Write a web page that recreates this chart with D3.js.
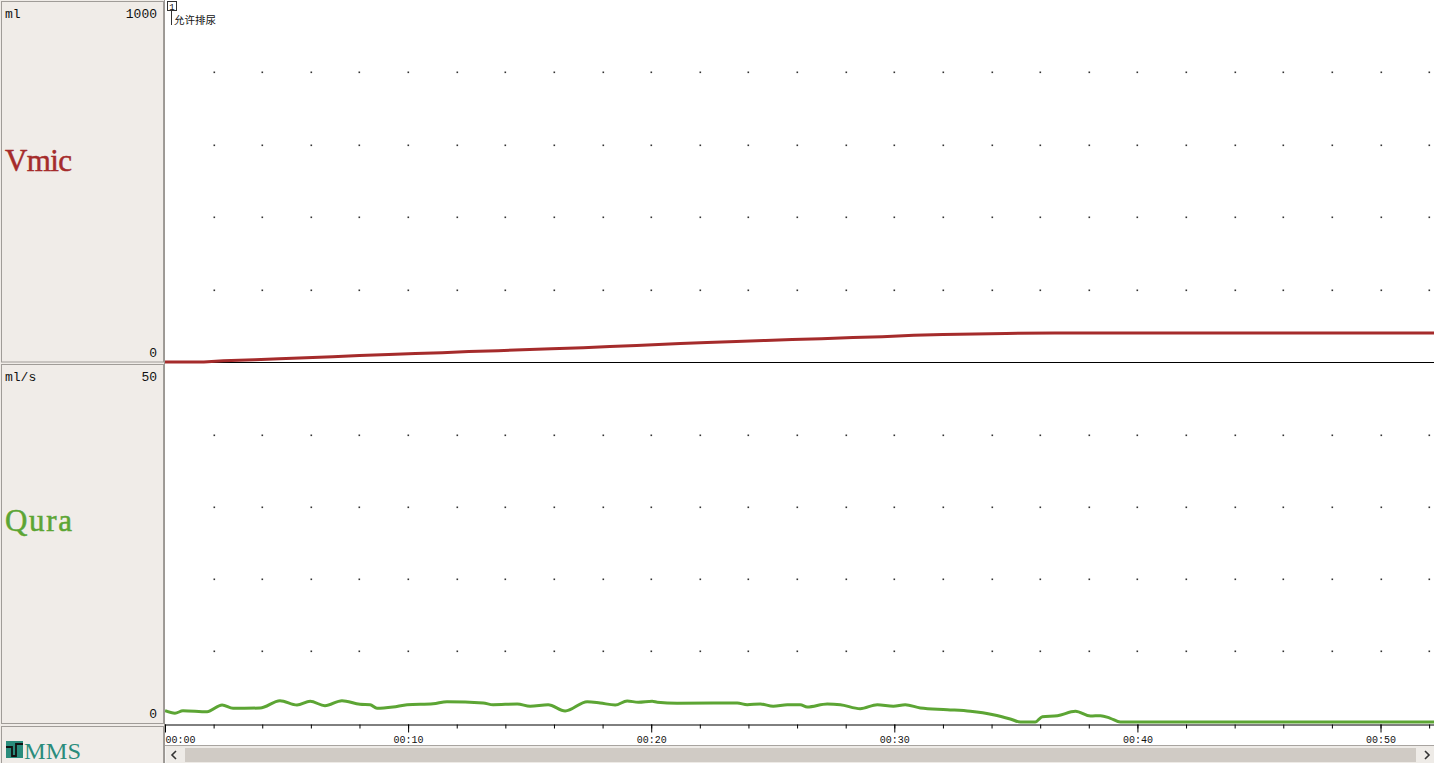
<!DOCTYPE html>
<html>
<head>
<meta charset="utf-8">
<script src="https://cdn.jsdelivr.net/npm/d3@7/dist/d3.min.js"></script>
<style>
html,body{margin:0;padding:0;background:#fff;overflow:hidden;}
svg{display:block;}
</style>
</head>
<body>
<svg id="chart" width="1434" height="763"></svg>
<script>
// ---- data ----
const vmicTime   = [0, 1.6, 2.4, 3.7, 4.7, 5.8, 6.9, 8.0, 9.2, 10.3, 11.4, 12.5, 13.7, 14.7, 15.9, 17.2, 18.3, 19.4, 20.3, 21.2, 22.3, 23.5, 24.7, 25.8, 27.0, 28.3, 29.5, 30.8, 32.0, 34.6, 36.6, 52.2];
const vmicValues = [0, 0, 3.6, 6.3, 9.1, 11.9, 14.6, 18.2, 21, 23.7, 25.7, 29.3, 31.2, 34, 36.7, 39.5, 43, 45.8, 48.6, 51.3, 54.1, 56.9, 59.6, 62, 64.4, 68, 70, 73.6, 76.3, 79, 80.1, 80.1];

const quraTime   = [0, 0.41, 0.74, 1.73, 2.35, 2.80, 3.91, 4.73, 5.43, 5.97, 6.58, 7.28, 8.02, 8.44, 8.72, 9.38, 9.96, 11.03, 11.60, 13.09, 13.50, 14.49, 15.02, 15.76, 16.46, 17.37, 17.90, 18.52, 19.01, 19.47, 20.04, 20.25, 21.07, 23.54, 23.95, 24.49, 25.02, 25.60, 26.13, 26.42, 27.24, 27.78, 28.60, 29.30, 29.96, 30.45, 31.07, 32.18, 33.13, 34.07, 34.77, 35.19, 35.80, 36.09, 36.71, 37.45, 38.07, 38.48, 38.89, 39.30, 52.2];
const quraValues = [1.57, 1.21, 1.57, 1.43, 2.36, 1.90, 1.94, 2.96, 2.36, 2.88, 2.26, 2.96, 2.46, 2.40, 1.90, 2.08, 2.40, 2.54, 2.82, 2.64, 2.40, 2.50, 2.18, 2.40, 1.53, 2.82, 2.64, 2.36, 2.92, 2.74, 2.88, 2.74, 2.60, 2.64, 2.40, 2.50, 2.18, 2.40, 2.40, 2.08, 2.50, 2.40, 1.85, 2.40, 2.18, 2.40, 1.94, 1.71, 1.49, 1.01, 0.42, 0, 0, 0.74, 0.88, 1.49, 0.83, 0.88, 0.51, 0, 0];

const channels = [
  {name: "Vmic", unit: "ml",   max: 1000, color: "#a52b2b"},
  {name: "Qura", unit: "ml/s", max: 50,   color: "#5ca534"}
];
const xTickValues = d3.range(0, 53, 2);
const xMajorTicks = [0, 10, 20, 30, 40, 50];
const eventLabels = [{time: 0.15, num: "1", text: "允许排尿"}];

// ---- layout ----
const W = 1434, H = 763;
const plotL = 165, plotR = 1434;
const svg = d3.select("#chart");

const x = d3.scaleLinear().domain([0, 52.2]).range([plotL, plotR]);
const yTop = d3.scaleLinear().domain([0, channels[0].max]).range([362, 0]);
const yBot = d3.scaleLinear().domain([0, channels[1].max]).range([723, 363]);

// left panel background
svg.append("rect").attr("x",0).attr("y",0).attr("width",plotL).attr("height",H).attr("fill","#f0ece8");
const boxes = [[1.5,1.5,162,360.5],[1.5,364.5,162,359],[1.5,726.5,162,38]];
boxes.forEach(b=>{
  svg.append("rect").attr("x",b[0]).attr("y",b[1]).attr("width",b[2]).attr("height",b[3])
    .attr("fill","#f0ece8").attr("stroke","#a09c98").attr("stroke-width",1);
});
svg.append("line").attr("x1",164.5).attr("x2",164.5).attr("y1",0).attr("y2",H).attr("stroke","#9c9894").attr("stroke-width",1);

// plot background
svg.append("rect").attr("x",plotL+0.5).attr("y",0).attr("width",plotR-plotL).attr("height",746).attr("fill","#fff");

const mono = "'Liberation Mono','DejaVu Sans Mono',monospace";
const serif = "'Liberation Serif','DejaVu Serif',serif";
function panelText(txt, xx, yy, anchor, size, color){
  return svg.append("text").attr("x",xx).attr("y",yy).attr("text-anchor",anchor)
    .attr("font-family",mono).attr("font-size",size).attr("fill",color).text(txt);
}
panelText(channels[0].unit, 5, 18, "start", 13, "#111");
panelText(String(channels[0].max), 157, 18, "end", 13, "#111");
panelText("0", 157, 357, "end", 13, "#111");
panelText(channels[1].unit, 5, 381, "start", 13, "#111");
panelText(String(channels[1].max), 157, 381, "end", 13, "#111");
panelText("0", 157, 718, "end", 13, "#111");

function bigLabel(txt, yy, color){
  svg.append("text").attr("x",5).attr("y",yy).attr("font-family",serif)
    .attr("font-size",31).attr("fill",color).attr("stroke",color).attr("stroke-width",0.5)
    .attr("textLength",67).attr("lengthAdjust","spacing").text(txt);
}
bigLabel(channels[0].name, 171, channels[0].color);
bigLabel(channels[1].name, 531, channels[1].color);

// MMS logo
const logo = svg.append("g");
logo.append("rect").attr("x",6).attr("y",741).attr("width",17).attr("height",17).attr("fill","#2a8c7c");
logo.append("path").attr("d","M6,747 L12,747 L12,756 L16,756 L16,744 L23,744").attr("fill","none").attr("stroke","#111").attr("stroke-width",1.8);
logo.append("text").attr("x",24).attr("y",759).attr("font-family",serif)
  .attr("font-size",24).attr("fill","#2a8c7c").attr("textLength",57).attr("lengthAdjust","spacingAndGlyphs").text("MMS");

// grid dots
const dotG = svg.append("g");
const topVals = [200,400,600,800];
const botVals = [10,20,30,40];
xTickValues.filter(t=>t>0).forEach(t=>{
  topVals.forEach(v=>dotG.append("rect").attr("x",Math.round(x(t))-0.5).attr("y",Math.round(yTop(v))-0.5).attr("width",1.6).attr("height",1.6).attr("fill","#333"));
  botVals.forEach(v=>dotG.append("rect").attr("x",Math.round(x(t))-0.5).attr("y",Math.round(yBot(v))-0.5).attr("width",1.6).attr("height",1.6).attr("fill","#333"));
});

// separator line
svg.append("line").attr("x1",plotL).attr("x2",plotR).attr("y1",362.5).attr("y2",362.5).attr("stroke","#000").attr("stroke-width",1);

// clip
svg.append("clipPath").attr("id","clipTop").append("rect").attr("x",plotL).attr("y",0).attr("width",plotR-plotL).attr("height",364);
svg.append("clipPath").attr("id","clipBot").append("rect").attr("x",plotL).attr("y",363).attr("width",plotR-plotL).attr("height",362);

// lines
const vmicData = vmicTime.map((t,i)=>({t, v: vmicValues[i]}));
const quraData = quraTime.map((t,i)=>({t, v: quraValues[i]}));
svg.append("path").datum(vmicData).attr("clip-path","url(#clipTop)")
  .attr("d", d3.line().x(d=>x(d.t)).y(d=>yTop(d.v)))
  .attr("fill","none").attr("stroke",channels[0].color).attr("stroke-width",3);
svg.append("path").datum(quraData).attr("clip-path","url(#clipBot)")
  .attr("d", d3.line().x(d=>x(d.t)).y(d=>yBot(d.v)-1).curve(d3.curveMonotoneX))
  .attr("fill","none").attr("stroke",channels[1].color).attr("stroke-width",3);

// event marker
eventLabels.forEach(e=>{
  const ex = Math.round(x(e.time));
  svg.append("rect").attr("x",ex-1.5).attr("y",1.5).attr("width",9).attr("height",9).attr("fill","#fff").attr("stroke","#333").attr("stroke-width",1);
  svg.append("text").attr("x",ex+3).attr("y",9.5).attr("text-anchor","middle").attr("font-family",mono).attr("font-size",9).attr("fill","#111").text(e.num);
  svg.append("line").attr("x1",ex+2.5).attr("x2",ex+2.5).attr("y1",10.5).attr("y2",25).attr("stroke","#333").attr("stroke-width",1);
  svg.append("text").attr("x",ex+5).attr("y",24).attr("font-family","'Noto Sans CJK SC',sans-serif").attr("font-size",10.5).attr("fill","#111").text(e.text);
});

// axis
const fmt = t => "00:" + String(t).padStart(2,"0");
const minorAxis = d3.axisBottom(x).tickValues(xTickValues).tickSize(4).tickSizeOuter(0).tickFormat("");
const gMinor = svg.append("g").attr("transform","translate(0,724.5)").call(minorAxis);
gMinor.select(".domain").attr("stroke","#000");
const majorAxis = d3.axisBottom(x).tickValues(xMajorTicks).tickSize(8).tickSizeOuter(0).tickFormat(fmt);
const gMajor = svg.append("g").attr("transform","translate(0,724.5)").call(majorAxis);
gMajor.select(".domain").remove();
gMajor.selectAll("text").attr("font-family",mono).attr("font-size",10).attr("fill","#111").attr("y",11).attr("dy","0.71em");
gMajor.selectAll(".tick").filter(d=>d===0).select("text").attr("text-anchor","start");

// scrollbar
svg.append("rect").attr("x",plotL+0.5).attr("y",746).attr("width",plotR-plotL).attr("height",17).attr("fill","#eeebe7");
svg.append("line").attr("x1",plotL).attr("x2",plotR).attr("y1",745.5).attr("y2",745.5).attr("stroke","#a8a4a0");
svg.append("rect").attr("x",185).attr("y",748).attr("width",1231).attr("height",14).attr("fill","#d0cbc5");
svg.append("path").attr("d","M176,751 L172,755 L176,759").attr("fill","none").attr("stroke","#333").attr("stroke-width",1.6);
svg.append("path").attr("d","M1425,751 L1429,755 L1425,759").attr("fill","none").attr("stroke","#333").attr("stroke-width",1.6);
</script>
</body>
</html>
